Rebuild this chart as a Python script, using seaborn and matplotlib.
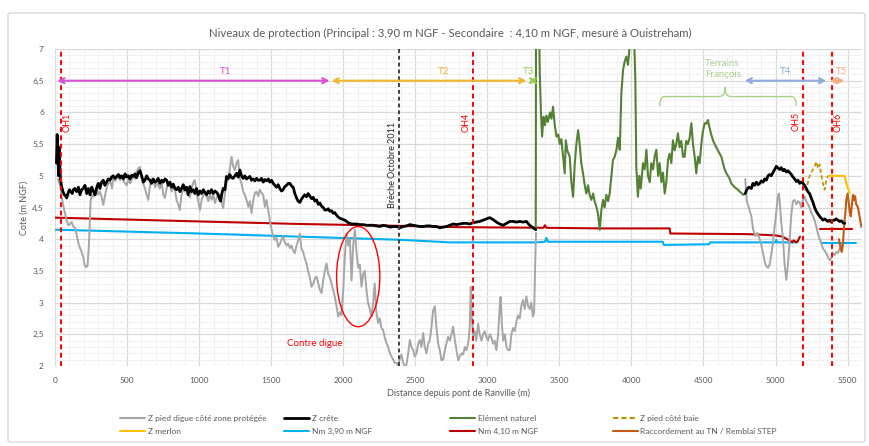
import matplotlib
matplotlib.use("Agg")
import numpy as np
import pandas as pd
import matplotlib.pyplot as plt
import seaborn as sns
from matplotlib.patches import Ellipse, FancyBboxPatch
from matplotlib.lines import Line2D
from matplotlib.path import Path
from matplotlib.patches import PathPatch
from matplotlib.ticker import MultipleLocator, FuncFormatter

# ---------------------------------------------------------------- data
# Z pied digue côté zone protégée (two surveyed stretches)
pied_x1 = [20, 35, 46, 60, 69, 80, 92, 105, 115, 128, 139, 150, 162, 175, 185, 196, 205, 215, 226, 235, 240, 247, 255,
           266, 278, 290, 300, 312, 322, 335, 348, 360, 370, 385, 395, 404, 420, 435, 451, 465, 480, 497, 510, 520,
           531, 545, 556, 566, 578, 589, 600, 612, 624, 636, 647, 660, 672, 682, 695, 705, 716, 728, 740, 750, 762,
           775, 786, 797, 810, 820, 832, 845, 855, 866, 878, 890, 901, 912, 925, 936, 948, 960, 970, 982, 994, 1006,
           1018, 1030, 1040, 1052, 1064, 1075, 1087, 1098, 1110, 1121, 1133, 1144, 1156, 1167, 1178, 1190, 1202,
           1213, 1225, 1236, 1248, 1260, 1271, 1283, 1294, 1306, 1317, 1329, 1341, 1352, 1364, 1375, 1387, 1398,
           1410, 1421, 1433, 1445, 1456, 1468, 1480, 1491, 1503, 1514, 1526, 1537, 1549, 1560, 1572, 1583, 1595,
           1607, 1618, 1630, 1641, 1653, 1664, 1676, 1687, 1699, 1710, 1722, 1733, 1745, 1756, 1768, 1780, 1792,
           1803, 1815, 1827, 1838, 1850, 1861, 1873, 1884, 1896, 1907, 1919, 1930, 1942, 1953, 1965, 1977, 1988,
           2000, 2011, 2023, 2035, 2046, 2058, 2069, 2081, 2092, 2104, 2115, 2127, 2138, 2150, 2161, 2173, 2184,
           2196, 2208, 2219, 2230, 2242, 2254, 2265, 2277, 2288, 2300, 2312, 2324, 2335, 2347, 2358, 2370, 2381,
           2393, 2404, 2416, 2427, 2439, 2451, 2462, 2474, 2486, 2497, 2509, 2520, 2532, 2543, 2555, 2566, 2578,
           2589, 2601, 2612, 2624, 2636, 2647, 2659, 2670, 2682, 2693, 2705, 2716, 2728, 2740, 2751, 2763, 2775,
           2786, 2798, 2809, 2821, 2832, 2844, 2855, 2867, 2878, 2885, 2892, 2901, 2913, 2924, 2936, 2947, 2959,
           2971, 2982, 2994, 3005, 3017, 3028, 3040, 3051, 3063, 3075, 3086, 3092, 3100, 3110, 3121, 3133, 3144,
           3156, 3167, 3179, 3190, 3202, 3213, 3225, 3236, 3248, 3259, 3271, 3282, 3294, 3305, 3317, 3325, 3332,
           3338]
pied_y1 = [4.95, 4.85, 4.67, 4.50, 4.41, 4.30, 4.22, 4.24, 4.27, 4.20, 4.18, 4.08, 3.94, 3.85, 3.80, 3.72, 3.60, 3.56,
           3.58, 3.90, 4.20, 4.60, 4.70, 4.67, 4.72, 4.80, 4.70, 4.75, 4.68, 4.54, 4.70, 4.82, 4.88, 4.90, 4.80, 4.96,
           4.92, 5.00, 4.93, 4.98, 4.90, 4.85, 4.95, 4.88, 4.93, 5.00, 4.95, 5.06, 5.12, 5.14, 4.98, 4.88, 4.80, 4.70,
           4.62, 4.85, 4.95, 4.93, 4.82, 4.90, 4.85, 4.80, 4.90, 4.72, 4.65, 4.80, 4.90, 4.85, 4.75, 4.82, 4.78, 4.60,
           4.55, 4.46, 4.70, 4.80, 4.75, 4.82, 4.70, 4.66, 4.80, 4.90, 4.93, 4.75, 4.60, 4.46, 4.62, 4.70, 4.75, 4.68,
           4.60, 4.72, 4.62, 4.70, 4.57, 4.65, 4.72, 4.65, 4.58, 4.49, 4.70, 4.90, 4.98, 5.10, 5.30, 5.15, 5.09, 5.20,
           5.25, 4.95, 4.88, 4.75, 4.70, 4.62, 4.51, 4.60, 4.41, 4.60, 4.73, 4.75, 4.68, 4.78, 4.73, 4.70, 4.51, 4.62,
           4.45, 4.30, 4.15, 4.04, 3.99, 4.02, 3.88, 3.92, 4.00, 4.04, 3.95, 3.90, 3.93, 3.86, 3.90, 3.82, 3.78, 3.90,
           3.98, 4.09, 3.85, 3.80, 3.70, 3.62, 3.50, 3.40, 3.25, 3.30, 3.38, 3.41, 3.30, 3.20, 3.15, 3.35, 3.50, 3.62,
           3.45, 3.40, 3.30, 3.20, 3.09, 2.95, 2.78, 2.85, 2.80, 3.20, 3.72, 4.09, 3.90, 4.00, 3.35, 3.90, 4.15, 3.80,
           3.55, 3.60, 3.25, 3.45, 3.50, 3.20, 2.99, 2.90, 2.78, 3.00, 3.30, 2.85, 2.68, 2.75, 2.60, 2.57, 2.45, 2.36,
           2.30, 2.20, 2.15, 2.10, 2.05, 2.05, 2.00, 2.12, 2.18, 2.05, 2.00, 2.02, 2.20, 2.41, 2.30, 2.25, 2.15, 2.20,
           2.35, 2.41, 2.30, 2.52, 2.30, 2.20, 2.35, 2.41, 2.60, 2.88, 2.94, 2.60, 2.35, 2.25, 2.09, 2.10, 2.25, 2.35,
           2.46, 2.40, 2.50, 2.62, 2.40, 2.25, 2.09, 2.15, 2.20, 2.18, 2.30, 2.25, 2.35, 2.60, 3.25, 2.80, 2.45, 2.55,
           2.40, 2.67, 2.50, 2.40, 2.50, 2.55, 2.45, 2.40, 2.50, 2.45, 2.35, 2.40, 2.25, 2.50, 2.94, 3.09, 2.70, 2.40,
           2.50, 2.30, 2.25, 2.25, 2.50, 2.60, 2.55, 2.70, 2.80, 2.75, 2.95, 3.04, 2.90, 3.10, 2.95, 2.90, 3.00, 2.78,
           2.85, 3.60, 4.10]
pied_x2 = [4790, 4800, 4815, 4832, 4845, 4860, 4875, 4890, 4902, 4913, 4925, 4936, 4948, 4959, 4970, 4982, 4994, 5006,
           5017, 5024, 5032, 5040, 5052, 5063, 5075, 5086, 5098, 5110, 5121, 5133, 5144, 5156, 5167, 5179, 5190, 5202,
           5213, 5225, 5236, 5248, 5260, 5271, 5283, 5294, 5306, 5318, 5329, 5340, 5352, 5363, 5375, 5387, 5398, 5410,
           5421, 5433, 5445, 5456, 5465]
pied_y2 = [4.95, 4.60, 4.50, 4.36, 4.15, 4.05, 4.10, 4.00, 3.90, 3.78, 3.65, 3.57, 3.55, 3.60, 3.75, 3.94, 4.20, 4.45,
           4.69, 4.72, 4.50, 4.25, 4.00, 3.60, 3.36, 3.60, 4.00, 4.40, 4.60, 4.62, 4.55, 4.60, 4.58, 4.50, 4.62, 4.67,
           4.60, 4.55, 4.50, 4.42, 4.36, 4.30, 4.20, 4.09, 4.00, 3.94, 3.85, 3.82, 3.78, 3.72, 3.67, 3.70, 3.78, 3.75,
           3.80, 3.78, 3.85, 3.88, 3.95]

# Z crête
crete_x1 = [10, 15, 20, 25, 28, 33, 38, 46, 55, 65, 75, 81, 90, 100, 110, 120, 127, 138, 150, 162, 173, 185, 196, 208,
            220, 232, 243, 255, 266, 278, 290, 300, 312, 323, 335, 346, 358, 370, 381, 393, 404, 416, 428, 440, 451,
            462, 474, 486, 497, 509, 520, 532, 543, 555, 566, 578, 590, 601, 613, 624, 636, 647, 659, 670, 682, 693,
            705, 716, 728, 740, 751, 763, 775, 786, 798, 809, 821, 832, 844, 855, 867, 878, 890, 901, 913, 924, 936,
            947, 959, 970, 982, 994, 1006, 1017, 1029, 1040, 1052, 1063, 1075, 1086, 1098, 1110, 1121, 1133, 1144,
            1150, 1156, 1167, 1179, 1190, 1202, 1213, 1225, 1236, 1248, 1260, 1271, 1283, 1294, 1306, 1317, 1329,
            1341, 1352, 1364, 1375, 1387, 1398, 1410, 1421, 1433, 1445, 1456, 1468, 1480, 1491, 1503, 1514, 1526,
            1537, 1549, 1560, 1572, 1583, 1595, 1607, 1618, 1630, 1641, 1653, 1664, 1676, 1687, 1699, 1710, 1722,
            1733, 1745, 1756, 1768, 1780, 1792, 1803, 1815, 1827, 1838, 1850, 1861, 1873, 1884, 1896, 1907, 1919,
            1930, 1942, 1953, 1965, 1977, 1988, 2000, 2011, 2023, 2035, 2046, 2058, 2069, 2092, 2115, 2138, 2161,
            2184, 2208, 2230, 2254, 2277, 2300, 2324, 2347, 2370, 2393, 2416, 2439, 2462, 2486, 2509, 2532, 2555,
            2578, 2601, 2624, 2647, 2670, 2693, 2716, 2740, 2763, 2786, 2809, 2832, 2855, 2878, 2901, 2924, 2947,
            2971, 2994, 3017, 3040, 3063, 3086, 3110, 3133, 3156, 3179, 3202, 3225, 3248, 3271, 3294, 3317, 3336]
crete_y1 = [5.20, 5.65, 5.30, 5.00, 5.45, 5.20, 4.95, 4.83, 4.75, 4.70, 4.68, 4.65, 4.72, 4.78, 4.75, 4.72, 4.78, 4.80,
            4.75, 4.82, 4.70, 4.78, 4.80, 4.85, 4.72, 4.80, 4.70, 4.82, 4.76, 4.70, 4.82, 4.88, 4.80, 4.90, 4.93, 4.85,
            4.90, 4.95, 4.93, 4.98, 5.00, 4.96, 4.99, 5.02, 4.97, 5.00, 4.95, 5.03, 4.98, 5.00, 4.95, 5.01, 4.99, 5.03,
            4.97, 5.05, 5.08, 5.00, 4.90, 4.93, 5.00, 4.95, 4.93, 4.88, 4.95, 4.90, 4.92, 4.96, 4.88, 4.93, 4.90, 4.95,
            4.93, 4.85, 4.90, 4.82, 4.87, 4.80, 4.78, 4.82, 4.75, 4.80, 4.86, 4.78, 4.82, 4.70, 4.83, 4.75, 4.78, 4.72,
            4.80, 4.70, 4.76, 4.72, 4.78, 4.74, 4.70, 4.76, 4.73, 4.78, 4.72, 4.76, 4.74, 4.70, 4.62, 4.60, 4.70, 4.80,
            4.78, 4.99, 4.95, 5.02, 4.97, 4.96, 5.00, 5.04, 4.98, 5.09, 5.00, 4.96, 5.00, 4.95, 4.97, 4.99, 4.93, 4.95,
            4.92, 4.96, 4.93, 4.93, 4.96, 4.90, 4.94, 4.92, 4.95, 4.90, 4.93, 4.88, 4.85, 4.82, 4.86, 4.80, 4.76, 4.78,
            4.83, 4.85, 4.88, 4.88, 4.84, 4.82, 4.72, 4.65, 4.60, 4.58, 4.63, 4.67, 4.70, 4.67, 4.72, 4.68, 4.64, 4.66,
            4.60, 4.62, 4.55, 4.57, 4.52, 4.50, 4.46, 4.46, 4.48, 4.44, 4.45, 4.41, 4.42, 4.38, 4.35, 4.33, 4.32, 4.31,
            4.30, 4.28, 4.26, 4.25, 4.24, 4.24, 4.24, 4.23, 4.23, 4.22, 4.22, 4.22, 4.21, 4.20, 4.22, 4.21, 4.19, 4.20,
            4.20, 4.18, 4.20, 4.21, 4.23, 4.22, 4.21, 4.20, 4.20, 4.21, 4.21, 4.20, 4.20, 4.18, 4.19, 4.20, 4.22, 4.24,
            4.23, 4.24, 4.25, 4.25, 4.24, 4.26, 4.27, 4.28, 4.30, 4.32, 4.34, 4.31, 4.27, 4.24, 4.22, 4.25, 4.28, 4.28,
            4.27, 4.28, 4.27, 4.28, 4.22, 4.18, 4.15]
crete_x2 = [4790, 4800, 4815, 4832, 4843, 4855, 4867, 4878, 4890, 4902, 4913, 4925, 4936, 4948, 4959, 4970, 4982, 4994,
            5006, 5017, 5029, 5040, 5052, 5063, 5075, 5086, 5098, 5110, 5121, 5133, 5144, 5156, 5167, 5179, 5190, 5202,
            5213, 5225, 5236, 5248, 5260, 5271, 5283, 5294, 5306, 5318, 5329, 5340, 5352, 5363, 5375, 5387, 5398, 5410,
            5421, 5433, 5445, 5456, 5468, 5480]
crete_y2 = [4.72, 4.78, 4.82, 4.80, 4.88, 4.85, 4.90, 4.86, 4.88, 4.92, 4.90, 4.95, 4.93, 5.00, 5.02, 5.00, 5.05, 5.10,
            5.15, 5.12, 5.10, 5.13, 5.08, 5.10, 5.06, 5.08, 5.05, 5.02, 4.98, 4.95, 4.91, 4.93, 4.88, 4.90, 4.88, 4.85,
            4.80, 4.75, 4.72, 4.65, 4.58, 4.50, 4.44, 4.40, 4.36, 4.33, 4.30, 4.32, 4.30, 4.28, 4.30, 4.27, 4.30, 4.30,
            4.32, 4.30, 4.28, 4.29, 4.26, 4.25]

# Elément naturel (dunes / terrains)
naturel_x = [3336, 3338, 3350, 3360, 3364, 3372, 3380, 3390, 3400, 3410, 3420, 3435, 3445, 3456, 3468, 3480, 3492, 3503,
             3514, 3526, 3537, 3545, 3555, 3572, 3583, 3595, 3607, 3618, 3630, 3641, 3652, 3664, 3676, 3687, 3699, 3710,
             3722, 3734, 3745, 3757, 3768, 3780, 3791, 3803, 3814, 3826, 3838, 3849, 3861, 3872, 3884, 3896, 3907, 3919,
             3930, 3942, 3953, 3965, 3976, 3988, 4000, 4011, 4020, 4027, 4034, 4045, 4055, 4065, 4080, 4092, 4104, 4115,
             4127, 4138, 4150, 4161, 4173, 4185, 4196, 4208, 4219, 4231, 4242, 4254, 4265, 4277, 4288, 4300, 4311, 4323,
             4334, 4346, 4358, 4369, 4380, 4392, 4404, 4416, 4427, 4439, 4450, 4462, 4473, 4485, 4496, 4508, 4519, 4531,
             4543, 4554, 4566, 4577, 4589, 4600, 4612, 4624, 4635, 4647, 4659, 4670, 4682, 4693, 4705, 4716, 4728, 4740,
             4751, 4763, 4775, 4786]
naturel_y = [4.15, 7.60, 7.60, 7.20, 6.62, 6.00, 5.62, 5.93, 5.80, 5.95, 5.85, 6.00, 5.90, 6.09, 5.80, 5.62, 5.65, 5.50,
             5.58, 5.30, 5.04, 5.56, 5.40, 5.30, 4.90, 4.67, 5.20, 5.50, 5.72, 5.50, 5.20, 5.04, 4.85, 4.72, 4.85, 4.70,
             4.62, 4.72, 4.60, 4.51, 4.40, 4.15, 4.45, 4.62, 4.50, 4.70, 4.60, 4.72, 5.00, 5.25, 5.30, 5.41, 5.60, 5.41,
             6.30, 6.67, 6.80, 6.88, 6.75, 7.05, 7.30, 7.40, 7.10, 6.50, 5.14, 4.67, 5.00, 4.80, 5.20, 5.10, 5.41, 5.00,
             4.90, 5.20, 5.10, 5.30, 5.41, 5.00, 5.20, 4.90, 5.05, 4.72, 4.90, 5.25, 5.35, 5.20, 5.56, 5.40, 5.50, 5.67,
             5.45, 5.55, 5.30, 5.30, 5.55, 5.50, 5.60, 5.83, 5.50, 5.30, 5.04, 5.30, 5.20, 5.50, 5.70, 5.83, 5.82, 5.88,
             5.75, 5.65, 5.56, 5.50, 5.45, 5.40, 5.35, 5.30, 5.20, 5.10, 5.04, 5.00, 4.95, 4.88, 4.85, 4.82, 4.80, 4.78,
             4.75, 4.73, 4.70, 4.72]

# Z pied côté baie
baie_x = [5202, 5214, 5225, 5236, 5248, 5260, 5271, 5283, 5294, 5306, 5318, 5329, 5340, 5352, 5360, 5368]
baie_y = [4.78, 4.78, 4.90, 5.00, 5.05, 5.10, 5.15, 5.22, 5.12, 5.18, 5.00, 4.88, 4.78, 4.92, 4.98, 5.00]

# Z merlon
merlon_x = [5368, 5420, 5479, 5495, 5514]
merlon_y = [5.00, 5.00, 5.00, 4.85, 4.73]

# Niveaux marins de référence
nm390_x1 = [0, 500, 1000, 1700, 2400, 2740, 3330, 3400, 3410, 3420, 4217, 4225, 4540, 4545, 5000, 5005, 5010, 5146]
nm390_y1 = [4.15, 4.12, 4.09, 4.04, 3.99, 3.95, 3.95, 3.96, 4.02, 3.96, 3.96, 3.91, 3.92, 3.95, 3.95, 3.99, 3.95, 3.95]
nm390_x2 = [5318, 5560]
nm390_y2 = [3.94, 3.94]

nm410_x1 = [0, 500, 1000, 1700, 2400, 2800, 3390, 3400, 3410, 3800, 4265, 4270, 4800, 5000, 5050, 5080, 5100, 5115,
            5125, 5140, 5150, 5160, 5170]
nm410_y1 = [4.34, 4.31, 4.28, 4.24, 4.21, 4.19, 4.18, 4.22, 4.18, 4.17, 4.17, 4.09, 4.08, 4.06, 4.04, 4.00, 3.98,
            3.95, 3.98, 3.96, 3.95, 4.00, 4.04]
nm410_x2 = [5306, 5532]
nm410_y2 = [4.16, 4.16]

# Raccordement au TN / Remblai STEP
raccord_x = [5440, 5452, 5460, 5468, 5475, 5484, 5491, 5500, 5507, 5514, 5522, 5530, 5537, 5545, 5552, 5560, 5572,
             5583, 5595]
raccord_y = [4.00, 3.85, 3.80, 3.92, 4.20, 4.40, 4.62, 4.72, 4.60, 4.45, 4.36, 4.55, 4.70, 4.62, 4.68, 4.55, 4.50,
             4.36, 4.20]

# Ouvrages hydrauliques et brèche
oh_names = ["OH1", "OH4", "OH5", "OH6"]
oh_x = [42, 2900, 5190, 5390]
breche_x = 2386

# Tronçons (début, fin)
troncon_names = ["T1", "T2", "T3", "T4", "T5"]
troncon_start = [15, 1919, 3290, 4786, 5375]
troncon_end = [1905, 3271, 3345, 5352, 5479]
troncon_label_x = [1185, 2693, 3288, 5068, 5456]
troncon_level = 6.5

ticks_x = list(range(0, 5501, 500))
ticks_y = [2, 2.5, 3, 3.5, 4, 4.5, 5, 5.5, 6, 6.5, 7]

# ---------------------------------------------------------------- styling
sns.set_theme(style="white")
plt.rcParams['font.family'] = ['Lato', 'DejaVu Sans']
TXT = "#595959"

W, H = 869, 446
fig = plt.figure(figsize=(W / 100, H / 100), dpi=100)
ax = fig.add_axes([55 / W, 1 - 366 / H, (862 - 55) / W, (366 - 49) / H])

# outer chart frame
frame = FancyBboxPatch((8 / W, 4 / H), (865 - 8) / W, (433 - 4) / H, boxstyle="round,pad=0,rounding_size=0.004",
                       transform=fig.transFigure, facecolor="none", edgecolor="#d9d9d9", lw=1.0, zorder=0)
fig.patches.append(frame)


def draw(x, y, color, lw, ls="-", z=3):
    df = pd.DataFrame({"distance": x, "cote": y})
    sns.lineplot(data=df, x="distance", y="cote", color=color, linewidth=lw, linestyle=ls,
                 sort=False, estimator=None, ax=ax, zorder=z)


C_PIED = "#a6a6a6"
C_CRETE = "#000000"
C_NAT = "#548235"
C_BAIE = "#bf9000"
C_MERLON = "#ffc000"
C_390 = "#00b0f0"
C_410 = "#c00000"
C_RACC = "#c55a11"

draw(nm390_x1, nm390_y1, C_390, 1.5, z=2)
draw(nm390_x2, nm390_y2, C_390, 1.5, z=2)
draw(nm410_x1, nm410_y1, C_410, 1.5, z=2)
draw(nm410_x2, nm410_y2, C_410, 1.5, z=2)
draw(pied_x1, pied_y1, C_PIED, 1.4)
draw(pied_x2, pied_y2, C_PIED, 1.4)
draw(naturel_x, naturel_y, C_NAT, 1.5)
draw(crete_x1, crete_y1, C_CRETE, 2.0, z=4)
draw(crete_x2, crete_y2, C_CRETE, 2.0, z=4)
draw(baie_x, baie_y, C_BAIE, 1.2, ls=(0, (2.5, 1.5)))
draw(merlon_x, merlon_y, C_MERLON, 1.5)
draw(raccord_x, raccord_y, C_RACC, 1.5)

# axes, grid, ticks
ax.set_xlim(0, 5600)
ax.set_ylim(2, 7)
ax.set_xticks(ticks_x)
ax.set_yticks(ticks_y)
ax.xaxis.set_minor_locator(MultipleLocator(100))
ax.yaxis.set_minor_locator(MultipleLocator(0.1))
ax.yaxis.set_major_formatter(FuncFormatter(lambda v, p: f"{v:g}".replace(".", ",")))
ax.grid(which="major", color="#d9d9d9", lw=0.9)
ax.grid(which="minor", color="#f0f0f0", lw=0.7)
ax.set_axisbelow(True)
for s in ax.spines.values():
    s.set_visible(False)
ax.tick_params(which="both", length=0, labelsize=6, labelcolor=TXT, pad=8)
ax.set_xlabel("Distance depuis pont de Ranville (m)", fontsize=6.5, color=TXT, labelpad=3)
ax.set_ylabel("Cote (m NGF)", fontsize=6.5, color=TXT, labelpad=3)

fig.text(450 / W, 1 - 33 / H, "Niveaux de protection (Principal : 3,90 m NGF - Secondaire  : 4,10 m NGF, mesuré à Ouistreham)",
         ha="center", va="center", fontsize=8.2, color=TXT)

# ouvrages hydrauliques
for name, xo in zip(oh_names, oh_x):
    ax.axvline(xo, color="#ff0000", lw=1.4, ls=(0, (2.5, 1.8)), zorder=6)
    right = name in ("OH1", "OH6")
    ax.text(xo + (45 if right else -45), 5.85, name, rotation=90, ha="center", va="center",
            fontsize=6.5, color="#ff0000", zorder=7)

ax.axvline(breche_x, color="#404040", lw=1.4, ls=(0, (2, 1.5)), zorder=6)
ax.text(breche_x - 45, 5.17, "Brèche Octobre 2011", rotation=90, ha="center", va="center",
        fontsize=6.5, color="#262626", zorder=7)

# tronçons
troncon_colors = ["#da4fd8", "#f2b530", "#92d050", "#8faadc", "#f4b183"]
for name, x0, x1, xl, col in zip(troncon_names, troncon_start, troncon_end, troncon_label_x, troncon_colors):
    ax.annotate("", xy=(x1, troncon_level), xytext=(x0, troncon_level),
                arrowprops=dict(arrowstyle="<->", color=col, lw=1.5, shrinkA=0, shrinkB=0,
                                mutation_scale=9), zorder=6)
    ax.text(xl, troncon_level + 0.15, name, ha="center", va="center", fontsize=7, color=col, zorder=7)

# Terrains François
C_TF = "#a9d18e"
ax.text(4633, 6.68, "Terrains\nFrançois", ha="center", va="center", fontsize=7, color=C_TF,
        linespacing=1.25, zorder=7)
brace = Path([(4196, 6.10), (4196, 6.25), (4230, 6.25), (4610, 6.25), (4650, 6.25), (4650, 6.40),
              (4650, 6.25), (4690, 6.25), (5110, 6.25), (5144, 6.25), (5144, 6.10)],
             [Path.MOVETO, Path.CURVE3, Path.CURVE3, Path.LINETO, Path.CURVE3, Path.CURVE3,
              Path.CURVE3, Path.CURVE3, Path.LINETO, Path.CURVE3, Path.CURVE3])
ax.add_patch(PathPatch(brace, facecolor="none", edgecolor=C_TF, lw=1.0, zorder=6))

# contre digue
ax.add_patch(Ellipse((2104, 3.41), 300, 1.58, facecolor="none", edgecolor="#ff0000", lw=1.0, zorder=7))
ax.text(1803, 2.36, "Contre digue", ha="center", va="center", fontsize=7, color="#ff0000", zorder=7)

# legend, four columns of two entries
entries = [
    [("Z pied digue côté zone protégée", C_PIED, "-"), ("Z merlon", C_MERLON, "-")],
    [("Z crête", C_CRETE, "-"), ("Nm 3,90 m NGF", C_390, "-")],
    [("Elément naturel", C_NAT, "-"), ("Nm 4,10 m NGF", C_410, "-")],
    [("Z pied côté baie", C_BAIE, (0, (2.5, 1.5))), ("Raccordement au TN / Remblai STEP", C_RACC, "-")],
]
col_px = [120, 284, 450, 613]
for cx, col in zip(col_px, entries):
    handles = [Line2D([], [], color=c, lw=2.0 if c == C_CRETE else 1.5, ls=ls) for _, c, ls in col]
    leg = fig.legend(handles, [t for t, _, _ in col], loc="upper left",
                     bbox_to_anchor=(cx / W, 1 - 415 / H), bbox_transform=fig.transFigure,
                     frameon=False, fontsize=6, handlelength=3.0, handletextpad=0.3,
                     borderpad=0, borderaxespad=0, labelspacing=0.75)
    for t in leg.get_texts():
        t.set_color(TXT)

fig.savefig("out.png", dpi=100)
